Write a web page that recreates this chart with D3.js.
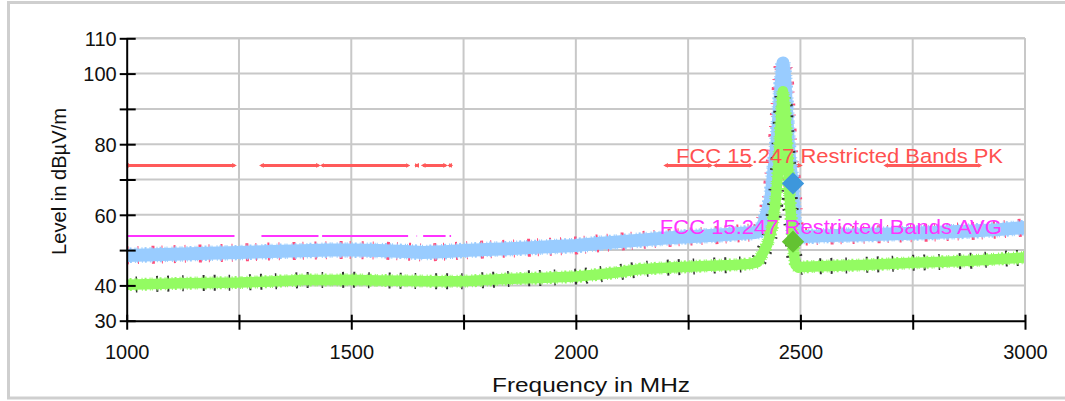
<!DOCTYPE html>
<html>
<head>
<meta charset="utf-8">
<script src="https://cdn.jsdelivr.net/npm/d3@7"></script>
<style>
  html, body { margin: 0; padding: 0; background: #ffffff; }
  svg { display: block; }
  text { font-family: "Liberation Sans", Arial, sans-serif; }
</style>
</head>
<body>
<svg id="chart" width="1065" height="401"></svg>
<script>
// ---------- data ----------
const xTickValues = [1000, 1250, 1500, 1750, 2000, 2250, 2500, 2750, 3000];
const xTickLabels = [1000, 1500, 2000, 2500, 3000];
const yTickValues = [30, 40, 50, 60, 70, 80, 90, 100, 110];
const yTickLabels = [30, 40, 60, 80, 100, 110];

// Peak trace (light blue band)
const pkFreq = [1000, 1060, 1120, 1180, 1250, 1320, 1390, 1450, 1500, 1560, 1620, 1660, 1700, 1750,
  1800, 1850, 1900, 1950, 2000, 2050, 2100, 2150, 2200, 2250, 2280, 2320, 2370, 2400, 2412,
  2421, 2434, 2448, 2457, 2461, 2465, 2469, 2473, 2477, 2481, 2484, 2487, 2491, 2500,
  2560, 2620, 2680, 2750, 2820, 2880, 2940, 3000];
const pkLevel = [48.5, 48.7, 48.9, 49.1, 49.3, 49.6, 49.8, 50.0, 50.0, 49.9, 49.6, 49.3, 49.5, 49.9,
  50.2, 50.4, 50.7, 51.0, 51.3, 51.9, 52.4, 52.9, 53.4, 53.8, 54.0, 54.3, 54.8, 55.0, 55.6,
  58.5, 64.5, 81.0, 97.0, 103.0, 99.0, 90.0, 80.0, 74.0, 70.0, 64.0, 57.0, 54.2, 53.8,
  54.1, 54.3, 54.5, 54.8, 55.1, 55.4, 55.8, 56.4];

// Average trace (light green band)
const avFreq = [1000, 1060, 1120, 1180, 1250, 1320, 1390, 1450, 1500, 1560, 1620, 1680, 1750,
  1800, 1860, 1920, 2000, 2050, 2100, 2143, 2200, 2250, 2300, 2350, 2388, 2405,
  2415, 2426, 2437, 2444, 2450, 2454, 2458, 2461, 2465, 2470, 2476, 2481, 2485, 2489, 2495, 2500,
  2560, 2620, 2680, 2750, 2820, 2880, 2944, 3000];
const avLevel = [40.2, 40.4, 40.6, 40.7, 40.8, 41.1, 41.5, 41.5, 41.6, 41.4, 41.3, 41.2, 41.2,
  41.5, 41.9, 42.1, 42.5, 43.1, 43.8, 44.6, 45.0, 45.3, 45.6, 45.8, 46.1, 46.6,
  48.8, 51.5, 56.5, 63.0, 71.8, 81.0, 90.0, 95.0, 91.0, 80.0, 65.0, 56.0, 49.5, 45.8, 45.0, 45.2,
  45.5, 45.7, 46.0, 46.4, 46.7, 47.0, 47.5, 47.9];

// FCC 15.247 restricted bands (MHz) and limits (dBµV/m)
const bandStart = [960, 1300, 1435, 1645.5, 1660, 1718.8, 2200, 2310, 2483.5, 2690];
const bandEnd   = [1240, 1427, 1626.5, 1646.5, 1710, 1722.2, 2300, 2390, 2500, 2900];
const pkLimit = 74;
const avgLimit = 54;
const limitLabels = ["FCC 15.247 Restricted Bands PK", "FCC 15.247 Restricted Bands AVG"];
const labelFreq = [2223, 2187];
const labelLevel = [74.6, 54.6];

// Markers at band edge
const markerFreq = [2483.5, 2483.5];
const markerLevel = [68.9, 52.4];

const xTitle = "Frequency in MHz";
const yTitle = "Level in dBµV/m";

// ---------- drawing ----------
const svg = d3.select("#chart");
const x = d3.scaleLinear().domain([1000, 3000]).range([126.7, 1025]);
const y = d3.scaleLinear().domain([30, 110]).range([320.7, 38.3]);

// outer frame
svg.append("rect").attr("x", 8.5).attr("y", 2.5).attr("width", 1075).attr("height", 395.5)
  .attr("fill", "#ffffff").attr("stroke", "#cfcfcf").attr("stroke-width", 3);

const defs = svg.append("defs");
defs.append("clipPath").attr("id", "plotclip").append("rect")
  .attr("x", x(1000)).attr("y", y(110) - 20).attr("width", x(3000) - x(1000)).attr("height", y(30) - y(110) + 20);

// grid
const grid = svg.append("g");
grid.selectAll("line.v").data(xTickValues.slice(1)).join("line")
  .attr("x1", d => x(d)).attr("x2", d => x(d)).attr("y1", y(110)).attr("y2", y(30))
  .attr("stroke", "#c8c8c8").attr("stroke-width", 2);
grid.selectAll("line.h").data(yTickValues.slice(1)).join("line")
  .attr("x1", x(1000)).attr("x2", x(3000)).attr("y1", d => y(d)).attr("y2", d => y(d))
  .attr("stroke", "#c8c8c8").attr("stroke-width", 2);

// limit lines
function arrowMarker(id, color) {
  const m = defs.append("marker").attr("id", id).attr("viewBox", "0 -5 10 10")
    .attr("refX", 5).attr("refY", 0).attr("markerWidth", 1.6).attr("markerHeight", 1.6)
    .attr("orient", "auto-start-reverse").attr("markerUnits", "strokeWidth");
  m.append("path").attr("d", "M0,-5L10,0L0,5Z").attr("fill", color);
}
arrowMarker("arrRed", "#ff5a5a");

const bands = bandStart.map((s, i) => ({ s: Math.max(s, 1000), e: bandEnd[i] }));
const limG = svg.append("g").attr("clip-path", "url(#plotclip)");
limG.selectAll("line.pk").data(bands).join("line")
  .attr("x1", d => x(d.s)).attr("x2", d => x(d.e))
  .attr("y1", y(pkLimit)).attr("y2", y(pkLimit))
  .attr("stroke", "#ff5a5a").attr("stroke-width", 3)
  .attr("marker-start", "url(#arrRed)").attr("marker-end", "url(#arrRed)");
limG.selectAll("line.av").data(bands).join("line")
  .attr("x1", d => x(d.s)).attr("x2", d => x(d.e))
  .attr("y1", y(avgLimit)).attr("y2", y(avgLimit))
  .attr("stroke", "#ff33ff").attr("stroke-width", 2);

// traces
const pkData = pkFreq.map((f, i) => [f, pkLevel[i]]);
const avData = avFreq.map((f, i) => [f, avLevel[i]]);
const line = d3.line().x(d => x(d[0])).y(d => y(d[1]));
const traces = svg.append("g").attr("clip-path", "url(#plotclip)");

// raw peak trace (pink) peeking out around the band
traces.append("path").attr("d", line(pkData)).attr("fill", "none")
  .attr("stroke", "#ff4d7a").attr("stroke-width", 18).attr("stroke-dasharray", "2 9 1 13 3 7 1 11")
  .attr("stroke-linejoin", "round");
// ragged fringe of the band
traces.append("path").attr("d", line(pkData)).attr("fill", "none")
  .attr("stroke", "#99ccff").attr("stroke-width", 15.5).attr("stroke-dasharray", "1 2 2 3 1 1 1 4")
  .attr("stroke-linejoin", "round");
traces.append("path").attr("d", line(pkData)).attr("fill", "none")
  .attr("stroke", "#99ccff").attr("stroke-width", 13)
  .attr("stroke-linejoin", "round").attr("stroke-linecap", "butt");

// raw average trace (black dots) peeking out around the band
traces.append("path").attr("d", line(avData)).attr("fill", "none")
  .attr("stroke", "#333333").attr("stroke-width", 16).attr("stroke-dasharray", "2 13 1.5 19 2 9")
  .attr("stroke-dashoffset", 6).attr("stroke-linejoin", "bevel");
traces.append("path").attr("d", line(avData)).attr("fill", "none")
  .attr("stroke", "#93fb62").attr("stroke-width", 13).attr("stroke-dasharray", "1 2 2 3 1 1 1 4")
  .attr("stroke-linejoin", "round");
traces.append("path").attr("d", line(avData)).attr("fill", "none")
  .attr("stroke", "#93fb62").attr("stroke-width", 10.5)
  .attr("stroke-linejoin", "round").attr("stroke-linecap", "butt");

// markers
const markerColors = ["#3d97dc", "#63c232"];
svg.selectAll("path.mk").data(markerFreq).join("path")
  .attr("d", d3.symbol().type(d3.symbolSquare).size(250))
  .attr("transform", (d, i) => `translate(${x(d)},${y(markerLevel[i])}) rotate(45)`)
  .attr("fill", (d, i) => markerColors[i]);

// limit labels
const labelColors = ["#ff5050", "#ff33ff"];
const labelWidths = [327, 342];
svg.selectAll("text.lim").data(limitLabels).join("text")
  .attr("x", (d, i) => x(labelFreq[i])).attr("y", (d, i) => y(labelLevel[i]))
  .attr("fill", (d, i) => labelColors[i])
  .attr("font-size", 20.5)
  .attr("textLength", (d, i) => labelWidths[i]).attr("lengthAdjust", "spacingAndGlyphs")
  .text(d => d);

// plot frame top/right
svg.append("line").attr("x1", x(1000)).attr("x2", x(3000)).attr("y1", y(110)).attr("y2", y(110))
  .attr("stroke", "#c8c8c8").attr("stroke-width", 2);
svg.append("line").attr("x1", x(3000)).attr("x2", x(3000)).attr("y1", y(110)).attr("y2", y(30))
  .attr("stroke", "#c8c8c8").attr("stroke-width", 2);

// axes
const xAxis = d3.axisBottom(x).tickValues(xTickValues)
  .tickFormat(d => xTickLabels.includes(d) ? String(d) : "").tickSizeOuter(0);
const gx = svg.append("g").attr("transform", `translate(0,${y(30)})`).call(xAxis);
gx.select(".domain").attr("stroke", "#000").attr("stroke-width", 2);
gx.selectAll(".tick line").attr("y1", -6).attr("y2", 9).attr("stroke", "#000").attr("stroke-width", 2);
gx.selectAll(".tick text").attr("y", 38).attr("dy", 0).attr("font-size", 20)
  .attr("font-family", "Liberation Sans, Arial, sans-serif").attr("fill", "#111");

const yAxis = d3.axisLeft(y).tickValues(yTickValues)
  .tickFormat(d => yTickLabels.includes(d) ? String(d) : "").tickSizeOuter(0);
const gy = svg.append("g").attr("transform", `translate(${x(1000)},0)`).call(yAxis);
gy.select(".domain").attr("stroke", "#000").attr("stroke-width", 2);
gy.selectAll(".tick line").attr("x1", -7).attr("x2", 9).attr("stroke", "#000").attr("stroke-width", 2);
gy.selectAll(".tick text").attr("x", -10).attr("dy", "0.36em").attr("font-size", 20)
  .attr("font-family", "Liberation Sans, Arial, sans-serif").attr("fill", "#111");

// axis titles
svg.append("text").attr("x", 591).attr("y", 392).attr("text-anchor", "middle")
  .attr("font-size", 20.5).attr("fill", "#111")
  .attr("textLength", 198).attr("lengthAdjust", "spacingAndGlyphs").text(xTitle);
svg.append("text").attr("transform", "translate(66,181.5) rotate(-90)").attr("text-anchor", "middle")
  .attr("font-size", 20).attr("fill", "#111")
  .attr("textLength", 147).attr("lengthAdjust", "spacingAndGlyphs").text(yTitle);
</script>
</body>
</html>
